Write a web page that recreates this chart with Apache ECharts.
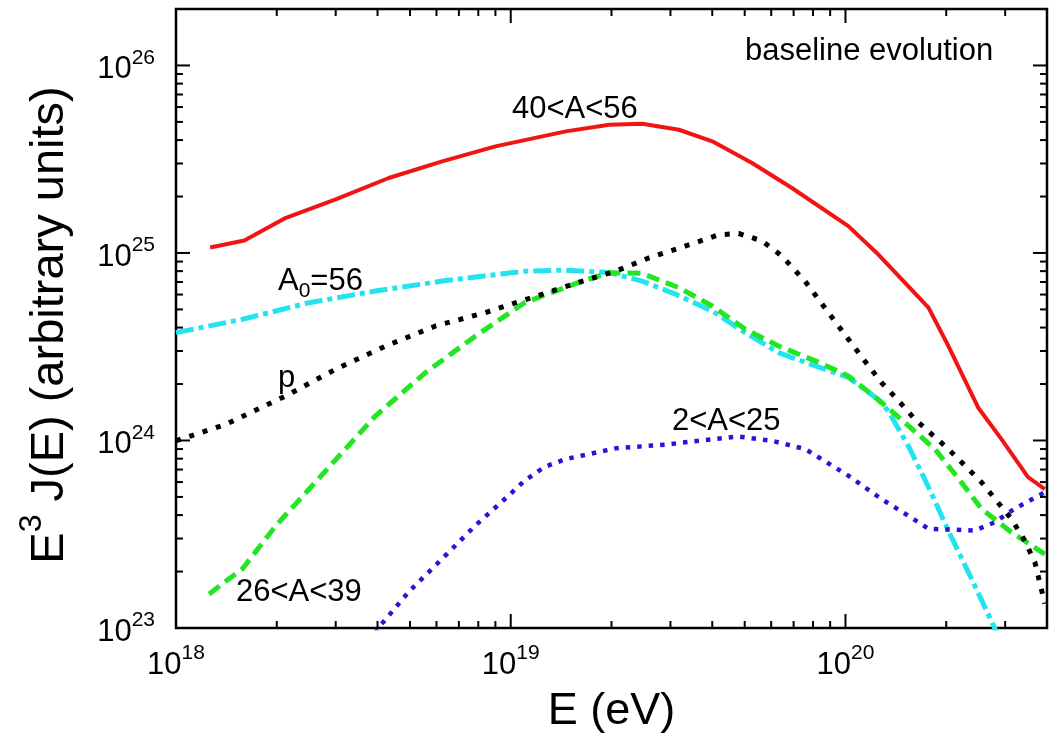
<!DOCTYPE html>
<html>
<head>
<meta charset="utf-8">
<script src="https://cdn.jsdelivr.net/npm/echarts@6/dist/echarts.min.js"></script>
<style>
  html, body { margin: 0; padding: 0; background: #fff; }
  #chart { width: 1055px; height: 739px; }
</style>
</head>
<body>
<div id="chart"></div>
<script>
// E (eV) vs E^3 J(E) (arbitrary units), one array per composition group

// 40<A<56
const heavyGroup = [
  [1.265e18, 1.07e25], [1.60e18, 1.166e25], [2.13e18, 1.54e25], [3.0e18, 1.93e25],
  [4.32e18, 2.51e25], [6.24e18, 3.08e25], [9.0e18, 3.70e25], [1.46e19, 4.45e25],
  [1.97e19, 4.83e25], [2.47e19, 4.89e25], [3.18e19, 4.54e25], [4.0e19, 3.94e25],
  [5.26e19, 3.02e25], [6.92e19, 2.22e25], [1.02e20, 1.39e25], [1.24e20, 1.0e25],
  [1.77e20, 5.11e24], [2.03e20, 3.19e24], [2.49e20, 1.50e24], [2.92e20, 1.02e24],
  [3.51e20, 6.37e23], [3.94e20, 5.51e23]
];

// A0=56 (injected composition)
const injectedGroup = [
  [1.0e18, 3.76e24], [1.58e18, 4.43e24], [2.50e18, 5.43e24], [3.94e18, 6.27e24],
  [6.24e18, 7.08e24], [1.10e19, 8.0e24], [1.46e19, 8.10e24], [1.97e19, 7.85e24],
  [2.47e19, 7.08e24], [3.11e19, 6.02e24], [4.0e19, 4.90e24], [5.02e19, 3.76e24],
  [6.31e19, 2.94e24], [8.12e19, 2.50e24], [1.02e20, 2.17e24], [1.25e20, 1.66e24],
  [1.34e20, 1.44e24], [1.54e20, 9.38e23], [1.77e20, 5.65e23], [2.03e20, 3.30e23],
  [2.38e20, 1.83e23], [2.79e20, 1.0e23], [3.06e20, 6.9e22]
];

// 26<A<39
const midGroup = [
  [1.256e18, 1.52e23], [1.58e18, 2.07e23], [1.99e18, 3.52e23], [2.50e18, 5.51e23],
  [3.14e18, 8.64e23], [3.94e18, 1.35e24], [5.56e18, 2.30e24], [7.84e18, 3.60e24],
  [1.10e19, 5.43e24], [1.24e19, 5.89e24], [1.64e19, 7.08e24], [1.97e19, 7.85e24],
  [2.47e19, 7.78e24], [3.18e19, 6.53e24], [4.0e19, 5.21e24], [5.02e19, 3.92e24],
  [6.31e19, 3.19e24], [8.12e19, 2.66e24], [1.02e20, 2.21e24], [1.28e20, 1.60e24],
  [1.54e20, 1.20e24], [1.85e20, 9.0e23], [2.22e20, 5.98e23], [2.55e20, 4.32e23],
  [3.13e20, 3.24e23], [3.94e20, 2.48e23]
];

// p
const protonGroup = [
  [1.0e18, 9.96e23], [1.41e18, 1.22e24], [2.13e18, 1.73e24], [3.0e18, 2.40e24],
  [4.23e18, 3.19e24], [5.96e18, 4.08e24], [8.40e18, 4.81e24], [1.24e19, 6.02e24],
  [1.64e19, 7.08e24], [2.06e19, 8.0e24], [2.59e19, 9.42e24], [3.33e19, 1.09e25],
  [4.18e19, 1.25e25], [4.80e19, 1.27e25], [5.63e19, 1.16e25], [6.46e19, 9.62e24],
  [7.58e19, 7.05e24], [8.70e19, 5.07e24], [1.02e20, 3.47e24], [1.15e20, 2.61e24],
  [1.28e20, 2.04e24], [1.44e20, 1.63e24], [1.61e20, 1.30e24], [2.03e20, 9.0e23],
  [2.55e20, 5.98e23], [3.13e20, 3.82e23], [3.43e20, 2.93e23], [3.68e20, 2.24e23],
  [3.94e20, 1.35e23]
];

// 2<A<25
const lightGroup = [
  [3.78e18, 8.3e22], [4.04e18, 1.01e23], [4.96e18, 1.56e23], [6.24e18, 2.34e23],
  [7.84e18, 3.52e23], [9.85e18, 5.08e23], [1.10e19, 6.11e23], [1.26e19, 7.22e23],
  [1.46e19, 7.96e23], [2.06e19, 9.08e23], [2.90e19, 9.51e23], [3.65e19, 9.96e23],
  [4.80e19, 1.05e24], [6.03e19, 9.96e23], [7.58e19, 9.0e23], [1.02e20, 6.49e23],
  [1.28e20, 4.88e23], [1.54e20, 3.97e23], [1.77e20, 3.38e23], [2.43e20, 3.31e23],
  [2.79e20, 3.66e23], [3.20e20, 4.32e23], [3.94e20, 5.30e23]
];

// axis ranges and tick positions
const xRange = [1e18, 4e20];
const yRange = [1e23, 2e26];
const xMajorTicks = [1e18, 1e19, 1e20];
const xMinorTicks = [
  2e18, 3e18, 4e18, 5e18, 6e18, 7e18, 8e18, 9e18,
  2e19, 3e19, 4e19, 5e19, 6e19, 7e19, 8e19, 9e19,
  2e20, 3e20
];
const yMajorTicks = [1e23, 1e24, 1e25, 1e26];
const yMinorTicks = [
  2e23, 3e23, 4e23, 5e23, 6e23, 7e23, 8e23, 9e23,
  2e24, 3e24, 4e24, 5e24, 6e24, 7e24, 8e24, 9e24,
  2e25, 3e25, 4e25, 5e25, 6e25, 7e25, 8e25, 9e25,
  2e26
];

const FONT = '"Liberation Sans", Arial, Helvetica, sans-serif';
const MAJOR_LEN = 14;
const MINOR_LEN = 7;
const TICK_W = 2;

function powerLabel(v) {
  const exp = Math.round(Math.log10(v));
  return '{b|10}{s|' + exp + '}';
}

const powerRich = {
  b: { fontSize: 31, lineHeight: 44, fontFamily: FONT, color: '#000' },
  s: { fontSize: 21, lineHeight: 21, verticalAlign: 'top', fontFamily: FONT, color: '#000' }
};

// Inward frame ticks: small rectangles anchored on the frame edges,
// placed through the axes' own log scales.
function frameTicks(values, dim, len) {
  const items = [];
  values.forEach(function (v) {
    if (dim === 'x') {
      items.push({ value: [v, yRange[0]], symbolSize: [TICK_W, len], symbolOffset: [0, -len / 2] });
      items.push({ value: [v, yRange[1]], symbolSize: [TICK_W, len], symbolOffset: [0, len / 2] });
    } else {
      items.push({ value: [xRange[0], v], symbolSize: [len, TICK_W], symbolOffset: [len / 2, 0] });
      items.push({ value: [xRange[1], v], symbolSize: [len, TICK_W], symbolOffset: [-len / 2, 0] });
    }
  });
  return {
    type: 'scatter',
    xAxisIndex: 0,
    yAxisIndex: 0,
    silent: true,
    clip: false,
    symbol: 'rect',
    z: 10,
    itemStyle: { color: '#000', opacity: 1 },
    data: items
  };
}

function curve(name, data, color, width, dash, z) {
  return {
    name: name,
    type: 'line',
    xAxisIndex: 0,
    yAxisIndex: 0,
    data: data,
    showSymbol: false,
    symbol: 'none',
    clip: true,
    z: z,
    lineStyle: { color: color, width: width, type: dash, cap: 'butt', join: 'round' }
  };
}

function note(text, x, y, extra) {
  return {
    type: 'text',
    x: x, y: y,
    z: 100,
    style: Object.assign({
      text: text, fill: '#000', fontSize: 31, fontFamily: FONT,
      align: 'left', verticalAlign: 'middle'
    }, extra || {})
  };
}

const chart = echarts.init(document.getElementById('chart'), null, { renderer: 'canvas' });

chart.setOption({
  animation: false,
  backgroundColor: '#fff',
  grid: {
    left: 176, right: 8, top: 9, bottom: 110, containLabel: false,
    show: true, borderColor: '#000', borderWidth: 2.5, backgroundColor: 'rgba(0,0,0,0)'
  },
  xAxis: {
    type: 'log',
    logBase: 10,
    min: xRange[0],
    max: xRange[1],
    axisLine: { show: false },
    axisTick: { show: false },
    splitLine: { show: false },
    minorTick: { show: false },
    axisLabel: {
      show: true, customValues: xMajorTicks, margin: 15,
      formatter: powerLabel, rich: powerRich
    },
    name: 'E (eV)',
    nameLocation: 'middle',
    nameGap: 61,
    nameTextStyle: { fontSize: 45, lineHeight: 45, fontFamily: FONT, color: '#000' }
  },
  yAxis: {
    type: 'log',
    logBase: 10,
    min: yRange[0],
    max: yRange[1],
    axisLine: { show: false },
    axisTick: { show: false },
    splitLine: { show: false },
    minorTick: { show: false },
    axisLabel: {
      show: true, customValues: yMajorTicks, margin: 21,
      padding: [8, 0, 0, 0],
      formatter: powerLabel, rich: powerRich
    },
    name: '{t|E}{s|3}{t| J(E) (arbitrary units)}',
    nameLocation: 'middle',
    nameRotate: 90,
    nameGap: 92,
    nameTextStyle: {
      fontFamily: FONT, color: '#000',
      padding: [0, 13, 0, 0],
      rich: {
        t: { fontSize: 47, lineHeight: 68, fontFamily: FONT, color: '#000' },
        s: { fontSize: 32, lineHeight: 32, verticalAlign: 'top', fontFamily: FONT, color: '#000' }
      }
    }
  },
  series: [
    curve('A0=56', injectedGroup, '#22e3ef', 5, [18, 5, 5, 5], 2),
    curve('26<A<39', midGroup, '#22e622', 5, [13, 7], 3),
    curve('p', protonGroup, '#000000', 5, [5, 9], 4),
    curve('2<A<25', lightGroup, '#2b12d6', 4.5, [4.5, 7], 5),
    curve('40<A<56', heavyGroup, '#f01414', 4, 'solid', 6),
    frameTicks(xMajorTicks, 'x', MAJOR_LEN),
    frameTicks(xMinorTicks, 'x', MINOR_LEN),
    frameTicks(yMajorTicks, 'y', MAJOR_LEN),
    frameTicks(yMinorTicks, 'y', MINOR_LEN)
  ],
  graphic: [
    note('baseline evolution', 745, 51),
    note('40<A<56', 512, 109),
    note('p', 278, 378),
    note('26<A<39', 236, 592.5),
    note('2<A<25', 672, 421),
    note('{a|A}{sub|0}{a|=56}', 278, 265.5, {
      verticalAlign: 'top',
      rich: {
        a: { fontSize: 31, lineHeight: 31, verticalAlign: 'top', fontFamily: FONT, fill: '#000' },
        sub: { fontSize: 21, lineHeight: 52, fontFamily: FONT, fill: '#000' }
      }
    })
  ]
});
</script>
</body>
</html>
